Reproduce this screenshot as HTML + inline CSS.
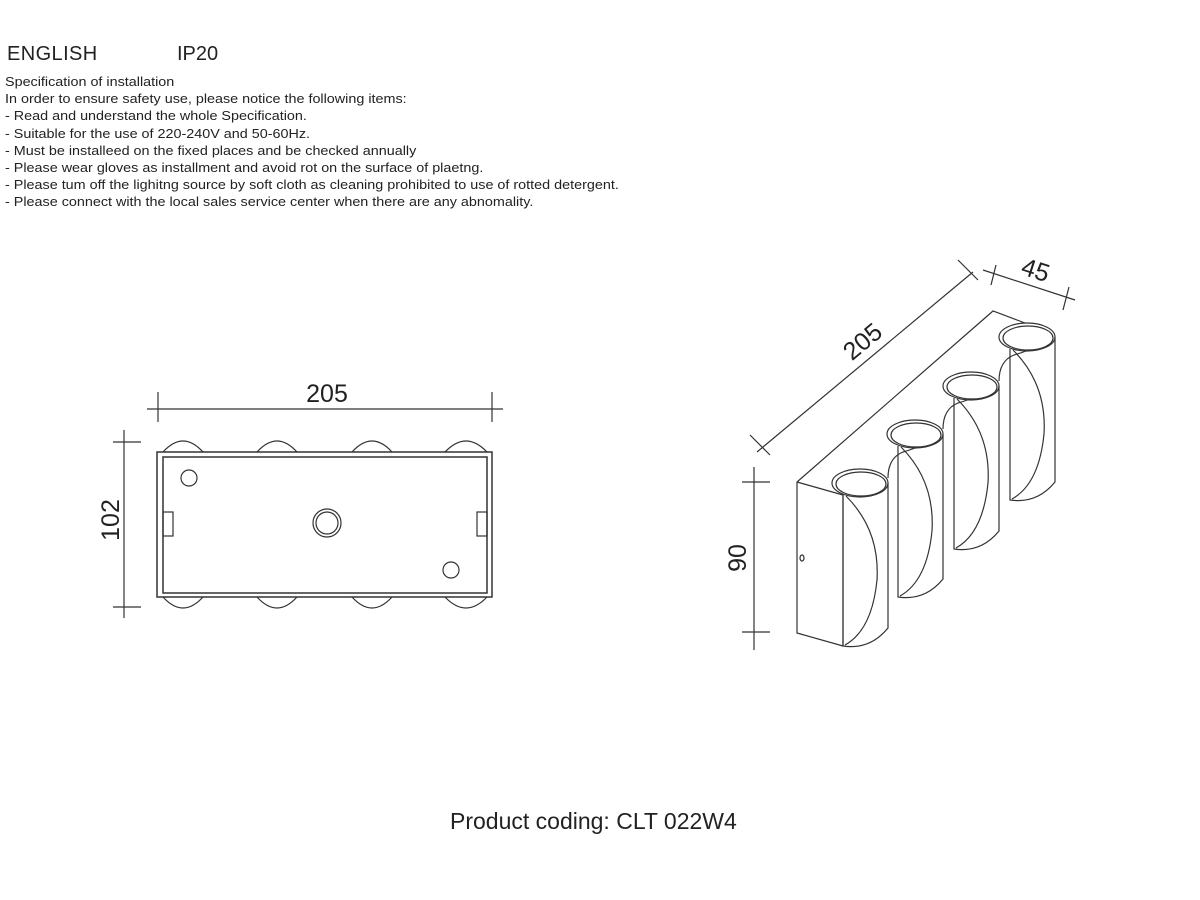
<!DOCTYPE html>
<html><head><meta charset="utf-8"><style>
body{margin:0;background:#fff;width:1200px;height:900px;overflow:hidden;font-family:"Liberation Sans",sans-serif;color:#222}
.t{position:absolute;white-space:nowrap}
</style></head><body>
<div class="t" style="left:7px;top:43px;font-size:20px;letter-spacing:0.4px">ENGLISH</div>
<div class="t" style="left:177px;top:43px;font-size:20px">IP20</div>
<div class="t" style="left:5px;top:73px;font-size:13px;line-height:17.2px;transform:scaleX(1.105);transform-origin:0 0">Specification of installation<br>In order to ensure safety use, please notice the following items:<br>- Read and understand the whole Specification.<br>- Suitable for the use of 220-240V and 50-60Hz.<br>- Must be installeed on the fixed places and be checked annually<br>- Please wear gloves as installment and avoid rot on the surface of plaetng.<br>- Please tum off the lighitng source by soft cloth as cleaning prohibited to use of rotted detergent.<br>- Please connect with the local sales service center when there are any abnomality.</div>
<div class="t" style="left:450px;top:808px;font-size:23px">Product coding: CLT 022W4</div>
<svg width="1200" height="900" style="position:absolute;left:0;top:0" fill="none" stroke="#333" stroke-width="1.2">
<g>
<line x1="147" y1="409" x2="503" y2="409"/><line x1="158" y1="392" x2="158" y2="422"/><line x1="492" y1="392" x2="492" y2="422"/>
<text x="327" y="402" font-size="25" text-anchor="middle" fill="#222" stroke="none" font-family="Liberation Sans">205</text>
<line x1="124" y1="430" x2="124" y2="618"/><line x1="113" y1="442" x2="141" y2="442"/><line x1="113" y1="607" x2="141" y2="607"/>
<text transform="translate(119,520) rotate(-90)" font-size="25" text-anchor="middle" fill="#222" stroke="none" font-family="Liberation Sans">102</text>
<rect x="157" y="452" width="335" height="145" stroke-width="1.5"/>
<rect x="163" y="457" width="324" height="136" stroke-width="1.5"/>
<path d="M163 452 Q183 430 203 452 M257 452 Q277 430 297 452 M352 452 Q372 430 392 452 M445 452 Q466 430 487 452"/>
<path d="M163 597 Q183 619 203 597 M257 597 Q277 619 297 597 M352 597 Q372 619 392 597 M445 597 Q466 619 487 597"/>
<circle cx="189" cy="478" r="8"/><circle cx="327" cy="523" r="14"/><circle cx="327" cy="523" r="11"/><circle cx="451" cy="570" r="8"/>
<rect x="163" y="512" width="10" height="24"/><rect x="477" y="512" width="10" height="24"/>
</g>
<g>
<line x1="757" y1="452" x2="973" y2="272"/><line x1="750" y1="435" x2="770" y2="455"/><line x1="958" y1="260" x2="978" y2="280"/>
<text transform="translate(868,348) rotate(-40)" font-size="25" text-anchor="middle" fill="#222" stroke="none" font-family="Liberation Sans">205</text>
<line x1="983" y1="270" x2="1075" y2="300"/><line x1="996" y1="265" x2="991" y2="285"/><line x1="1069" y1="287" x2="1063" y2="310"/>
<text transform="translate(1033,278) rotate(18)" font-size="25" text-anchor="middle" fill="#222" stroke="none" font-family="Liberation Sans">45</text>
<line x1="754" y1="467" x2="754" y2="650"/><line x1="742" y1="482" x2="770" y2="482"/><line x1="742" y1="632" x2="770" y2="632"/>
<text transform="translate(746,558) rotate(-90)" font-size="25" text-anchor="middle" fill="#222" stroke="none" font-family="Liberation Sans">90</text>
<path d="M797 482 L993 311 L1025 323"/>
<path d="M797 482 L797 633 L843 646 M797 482 L843 495 L843 646"/>
<ellipse cx="802" cy="558" rx="2" ry="3"/>
<g id="c">
<ellipse cx="860" cy="483" rx="28" ry="14"/>
<ellipse cx="861" cy="484" rx="25" ry="12"/>
<path d="M843 495 L843 646 Q870 650 888 628 L888 483"/>
<path d="M846 496 Q880 530 877 580 Q872 630 845 645"/>
</g>
<use href="#c" transform="translate(55,-49)"/>
<use href="#c" transform="translate(111,-97)"/>
<use href="#c" transform="translate(167,-146)"/>
<path id="w" d="M888 478 Q888 458 903 452 Q910 450 915 448"/>
<use href="#w" transform="translate(55,-49)"/>
<use href="#w" transform="translate(111,-97)"/>
</g>
</svg>
</body></html>
